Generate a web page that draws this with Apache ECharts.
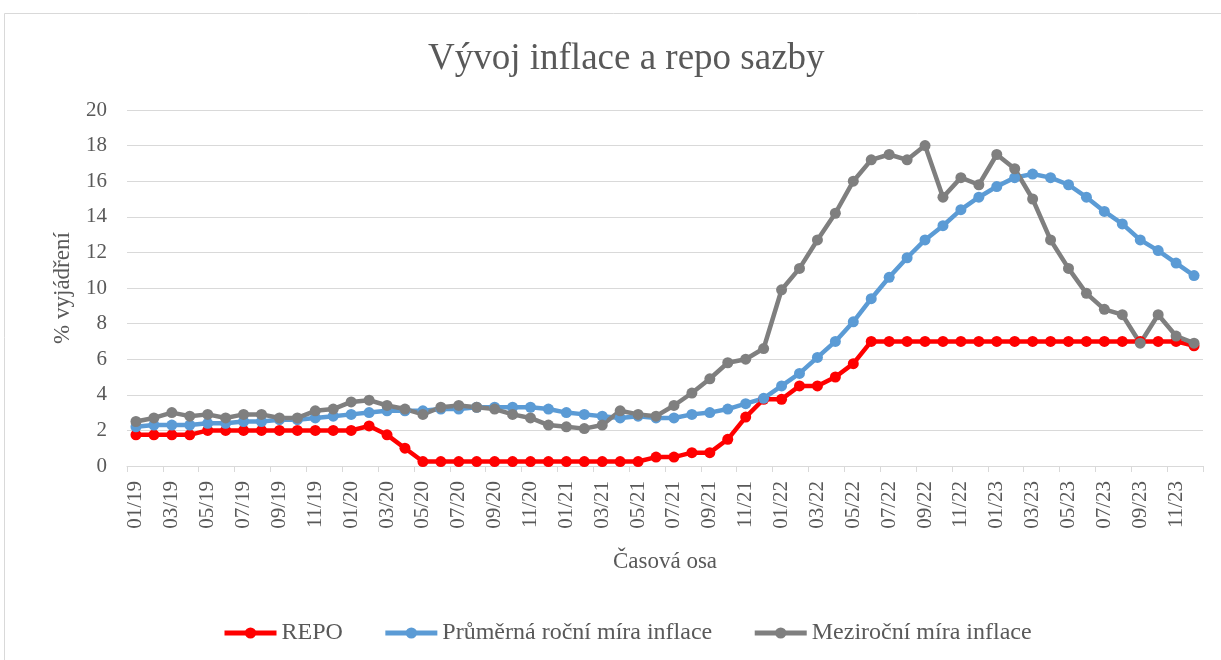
<!DOCTYPE html>
<html>
<head>
<meta charset="utf-8">
<script src="https://cdn.jsdelivr.net/npm/echarts@6/dist/echarts.min.js"></script>
<style>
html,body{margin:0;padding:0;background:#fff;}
#chart{width:1221px;height:660px;}
</style>
</head>
<body>
<div id="chart"></div>
<script>
const categories = [
 '01/19','02/19','03/19','04/19','05/19','06/19','07/19','08/19','09/19','10/19','11/19','12/19',
 '01/20','02/20','03/20','04/20','05/20','06/20','07/20','08/20','09/20','10/20','11/20','12/20',
 '01/21','02/21','03/21','04/21','05/21','06/21','07/21','08/21','09/21','10/21','11/21','12/21',
 '01/22','02/22','03/22','04/22','05/22','06/22','07/22','08/22','09/22','10/22','11/22','12/22',
 '01/23','02/23','03/23','04/23','05/23','06/23','07/23','08/23','09/23','10/23','11/23','12/23'
];
const repo = [
 1.75,1.75,1.75,1.75,2.0,2.0,2.0,2.0,2.0,2.0,2.0,2.0,
 2.0,2.25,1.75,1.0,0.25,0.25,0.25,0.25,0.25,0.25,0.25,0.25,
 0.25,0.25,0.25,0.25,0.25,0.5,0.5,0.75,0.75,1.5,2.75,3.75,
 3.75,4.5,4.5,5.0,5.75,7.0,7.0,7.0,7.0,7.0,7.0,7.0,
 7.0,7.0,7.0,7.0,7.0,7.0,7.0,7.0,7.0,7.0,7.0,6.75
];
const avgInflation = [
 2.2,2.3,2.3,2.3,2.4,2.4,2.5,2.5,2.6,2.6,2.7,2.8,
 2.9,3.0,3.1,3.1,3.1,3.2,3.2,3.3,3.3,3.3,3.3,3.2,
 3.0,2.9,2.8,2.7,2.8,2.7,2.7,2.9,3.0,3.2,3.5,3.8,
 4.5,5.2,6.1,7.0,8.1,9.4,10.6,11.7,12.7,13.5,14.4,15.1,
 15.7,16.2,16.4,16.2,15.8,15.1,14.3,13.6,12.7,12.1,11.4,10.7
];
const yoyInflation = [
 2.5,2.7,3.0,2.8,2.9,2.7,2.9,2.9,2.7,2.7,3.1,3.2,
 3.6,3.7,3.4,3.2,2.9,3.3,3.4,3.3,3.2,2.9,2.7,2.3,
 2.2,2.1,2.3,3.1,2.9,2.8,3.4,4.1,4.9,5.8,6.0,6.6,
 9.9,11.1,12.7,14.2,16.0,17.2,17.5,17.2,18.0,15.1,16.2,15.8,
 17.5,16.7,15.0,12.7,11.1,9.7,8.8,8.5,6.9,8.5,7.3,6.9
];
const seriesNames = ['REPO','Průměrná roční míra inflace','Meziroční míra inflace'];

const FONT = '"Liberation Serif","Times New Roman",serif';
const TXT = '#595959';
const chart = echarts.init(document.getElementById('chart'), null, {renderer:'canvas'});

function mkSeries(name, data, color){
  return {
    name, type:'line', data,
    symbol:'circle', symbolSize:11,
    lineStyle:{color, width:4.5},
    itemStyle:{color, borderWidth:0},
    emphasis:{disabled:true},
    z:2
  };
}

chart.setOption({
  animation:false,
  backgroundColor:'#fff',
  graphic:[{
    type:'rect', shape:{x:4.5,y:13.5,width:1230,height:660},
    style:{fill:'none', stroke:'#d9d9d9', lineWidth:1}, silent:true, z:-1
  }],
  title:{
    text:'Vývoj inflace a repo sazby',
    left:423, top:36,
    textStyle:{fontFamily:FONT, fontSize:37, fontWeight:'normal', color:TXT}
  },
  legend:{
    data:seriesNames,
    left:217, top:616,
    itemWidth:52, itemHeight:14, itemGap:40,
    lineStyle:{width:5},
    textStyle:{fontFamily:FONT, fontSize:24, color:TXT}
  },
  grid:{left:127, right:18, top:110, bottom:194, containLabel:false},
  xAxis:{
    type:'category', data:categories, boundaryGap:true,
    name:'Časová osa', nameLocation:'middle', nameGap:84,
    nameTextStyle:{fontFamily:FONT, fontSize:23, color:TXT},
    axisLine:{lineStyle:{color:'#d9d9d9', width:1}},
    axisTick:{show:true, interval:1, length:6, lineStyle:{color:'#d9d9d9'}},
    axisLabel:{interval:1, rotate:90, fontFamily:FONT, fontSize:21, color:TXT, margin:15}
  },
  yAxis:{
    type:'value', min:0, max:20, interval:2,
    name:'% vyjádření', nameLocation:'middle', nameGap:53, nameRotate:90,
    nameTextStyle:{fontFamily:FONT, fontSize:23, color:TXT},
    axisLine:{show:false}, axisTick:{show:false},
    axisLabel:{fontFamily:FONT, fontSize:21, color:TXT, margin:20},
    splitLine:{lineStyle:{color:'#d9d9d9', width:1}}
  },
  series:[
    mkSeries(seriesNames[0], repo, '#ff0000'),
    mkSeries(seriesNames[1], avgInflation, '#5b9bd5'),
    mkSeries(seriesNames[2], yoyInflation, '#7f7f7f')
  ]
});
</script>
</body>
</html>
